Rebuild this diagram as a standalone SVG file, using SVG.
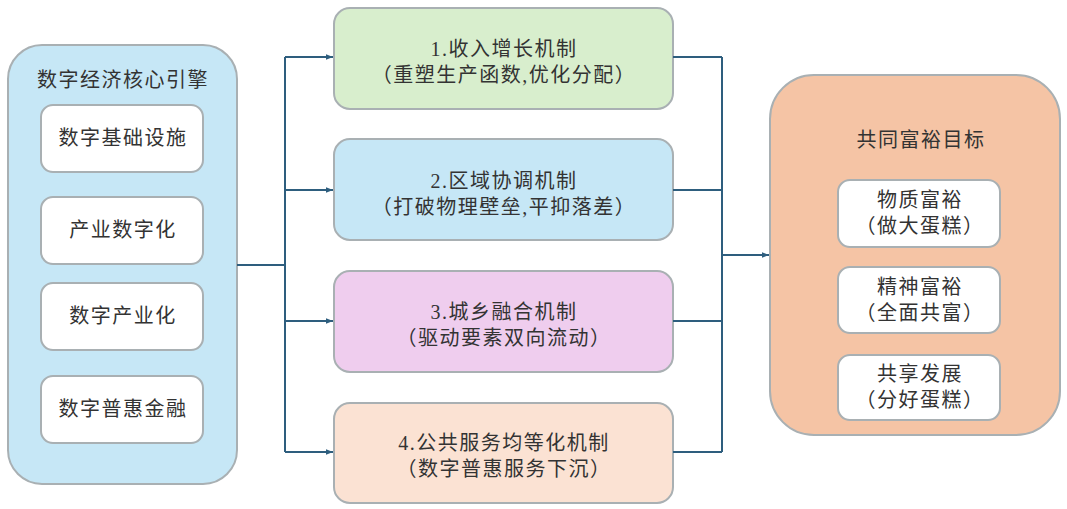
<svg xmlns="http://www.w3.org/2000/svg" width="1067" height="509" viewBox="0 0 1067 509">
<defs>
<marker id="arr" viewBox="0 0 10 10" refX="10" refY="5" markerWidth="7" markerHeight="7" markerUnits="userSpaceOnUse" orient="auto">
<path d="M0,1 L10,5 L0,9 z" fill="#2e5e7e"/>
</marker>
<style>
.t{font-family:"Liberation Serif","Noto Sans CJK SC",serif;font-size:20px;letter-spacing:1.5px;fill:#333;text-anchor:middle;}
.b{stroke:#a9b0b3;stroke-width:2;}
.w{fill:#fff;stroke:#a9b0b3;stroke-width:2;}
.c{fill:none;stroke:#2e5e7e;stroke-width:2;}
</style>
</defs>
<rect width="1067" height="509" fill="#fff"/>
<g id="left">
<rect class="b" x="8" y="45" width="229" height="439" rx="34" fill="#c6e7f6"/>
<text class="t" x="123" y="87">数字经济核心引擎</text>
</g>
<g id="l1"><rect class="w" x="41" y="105" width="162" height="67" rx="12"/><text class="t" x="123" y="145">数字基础设施</text></g>
<g id="l2"><rect class="w" x="41" y="197" width="162" height="67" rx="12"/><text class="t" x="123" y="237">产业数字化</text></g>
<g id="l3"><rect class="w" x="41" y="283" width="162" height="67" rx="12"/><text class="t" x="123" y="323">数字产业化</text></g>
<g id="l4"><rect class="w" x="41" y="376" width="162" height="67" rx="12"/><text class="t" x="123" y="416">数字普惠金融</text></g>
<g id="m1"><rect class="b" x="334" y="8" width="339" height="101" rx="16" fill="#d8eecd"/><text class="t" x="504" y="56">1.收入增长机制</text><text class="t" x="504" y="82">（重塑生产函数,优化分配）</text></g>
<g id="m2"><rect class="b" x="334" y="139" width="339" height="101" rx="16" fill="#c6e7f6"/><text class="t" x="504" y="188">2.区域协调机制</text><text class="t" x="504" y="214">（打破物理壁垒,平抑落差）</text></g>
<g id="m3"><rect class="b" x="334" y="271" width="339" height="101" rx="16" fill="#efcdee"/><text class="t" x="504" y="319">3.城乡融合机制</text><text class="t" x="504" y="345">（驱动要素双向流动）</text></g>
<g id="m4"><rect class="b" x="334" y="403" width="339" height="100" rx="16" fill="#fbe2d3"/><text class="t" x="504" y="450">4.公共服务均等化机制</text><text class="t" x="504" y="476">（数字普惠服务下沉）</text></g>
<g id="right">
<rect class="b" x="770" y="75" width="290" height="360" rx="44" fill="#f5c4a5"/>
<text class="t" x="921" y="147">共同富裕目标</text>
</g>
<g id="r1"><rect class="w" x="838" y="180" width="162" height="67" rx="12"/><text class="t" x="920" y="207">物质富裕</text><text class="t" x="920" y="233">（做大蛋糕）</text></g>
<g id="r2"><rect class="w" x="838" y="267" width="162" height="66" rx="12"/><text class="t" x="920" y="294">精神富裕</text><text class="t" x="920" y="320">（全面共富）</text></g>
<g id="r3"><rect class="w" x="838" y="355" width="162" height="65" rx="12"/><text class="t" x="920" y="381">共享发展</text><text class="t" x="920" y="407">（分好蛋糕）</text></g>
<g id="connectors">
<path class="c" d="M237,265 H285"/>
<path class="c" d="M285,57 V452"/>
<path class="c" d="M285,57 H333" marker-end="url(#arr)"/>
<path class="c" d="M285,190 H333" marker-end="url(#arr)"/>
<path class="c" d="M285,321 H333" marker-end="url(#arr)"/>
<path class="c" d="M285,452 H333" marker-end="url(#arr)"/>
<path class="c" d="M673,57 H722 M673,190 H722 M673,321 H722 M673,452 H722"/>
<path class="c" d="M722,57 V452"/>
<path class="c" d="M722,255 H769" marker-end="url(#arr)"/>
</g>
</svg>
